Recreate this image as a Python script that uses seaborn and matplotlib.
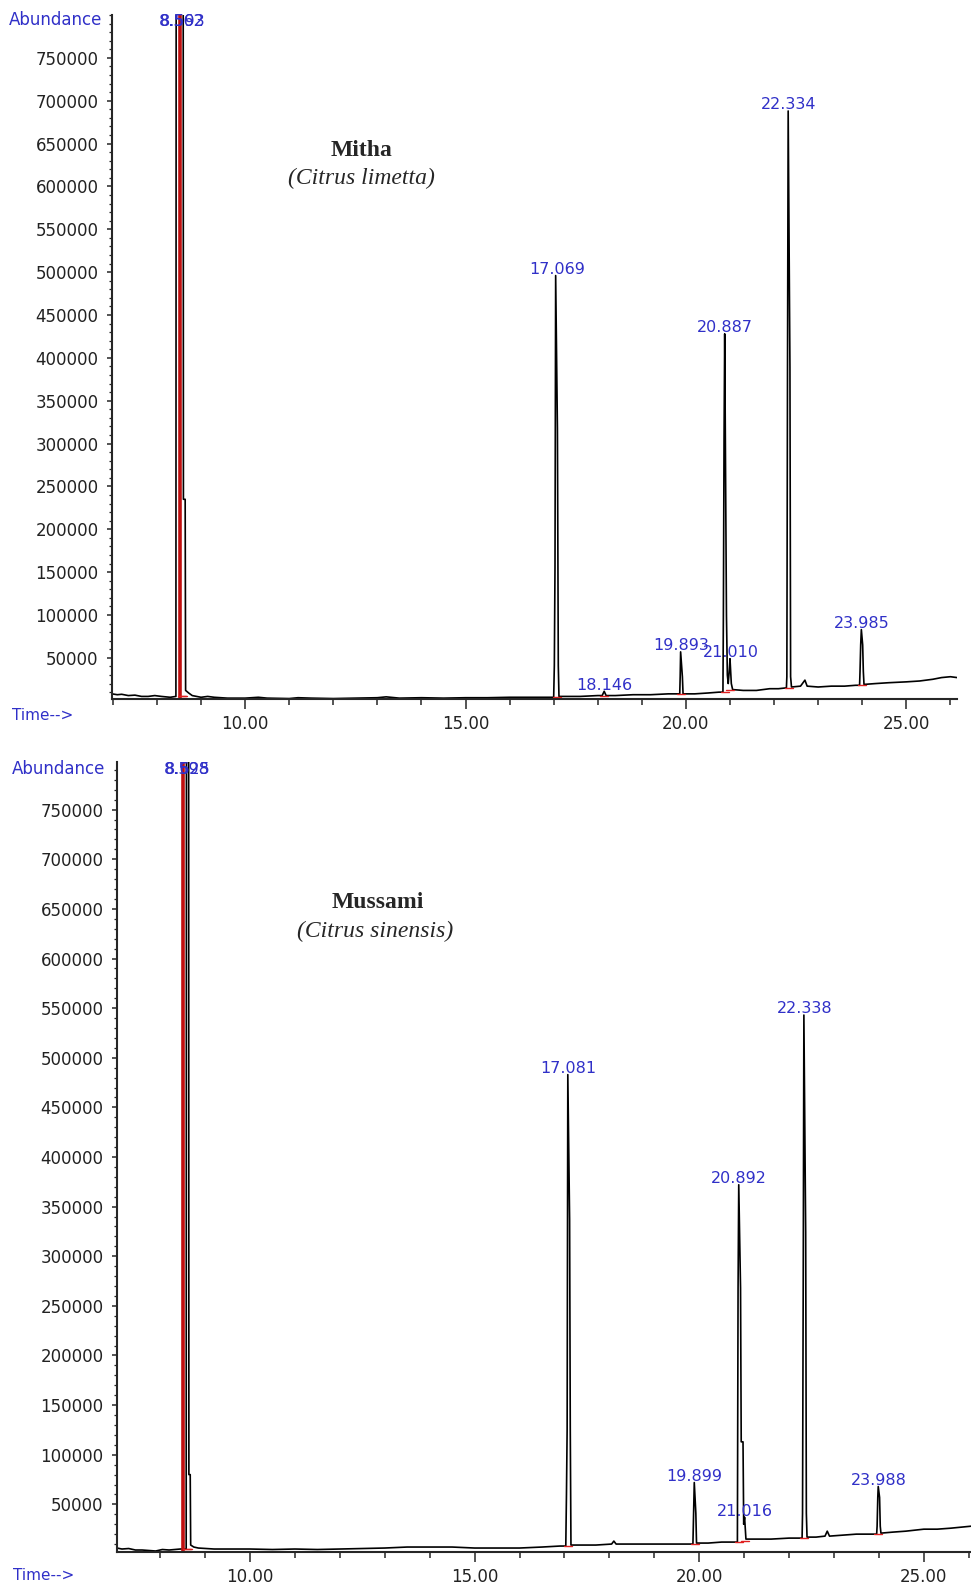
import numpy as np
import pandas as pd
import matplotlib
matplotlib.use("Agg")
import matplotlib.pyplot as plt
import seaborn as sns
from matplotlib.ticker import MultipleLocator, FormatStrFormatter

# ---- Mitha (Citrus limetta): baseline points, time (min) / abundance (x1000)
mitha_base_t = [6.98, 7.1, 7.2, 7.35, 7.5, 7.65, 7.8, 7.95, 8.1, 8.3, 8.8, 9.0, 9.15, 9.3, 9.6,
                10.0, 10.3, 10.5, 11.0, 11.2, 11.5, 12.0, 12.5, 13.0, 13.2, 13.5, 14.0, 14.5,
                15.0, 15.5, 16.0, 16.5, 16.9, 17.3, 17.6, 18.0, 18.4, 18.8, 19.2, 19.6, 20.2,
                20.5, 20.75, 21.3, 21.6, 21.9, 22.1, 22.6, 22.7, 22.75, 23.0, 23.3, 23.6,
                23.85, 24.3, 24.6, 25.0, 25.3, 25.6, 25.8, 26.0, 26.15]
mitha_base_y = [8, 7, 7.5, 6, 6.5, 5, 5, 6, 5, 4, 6, 4, 5, 4, 3,
                3, 4, 3, 2.5, 3.5, 3, 2.5, 3, 3.5, 4.5, 3, 3.5, 3,
                3.5, 3.5, 4, 4, 4, 5, 5, 6, 6, 7, 7, 8, 8,
                9, 10, 12, 12, 14, 14, 17, 24, 17, 16, 17, 17,
                18, 20, 21, 22, 23, 25, 27, 28, 27]
# peak scans
mitha_peak_t = [8.43, 8.44, 8.59, 8.60, 8.64, 8.65, 8.72,
                17.00, 17.015, 17.03, 17.045, 17.085, 17.105, 17.12,
                18.10, 18.146, 18.19,
                19.86, 19.87, 19.88, 19.92, 19.935,
                20.84, 20.85, 20.865, 20.88, 20.92, 20.94, 20.96, 20.985, 21.00, 21.03, 21.06,
                22.28, 22.29, 22.305, 22.32, 22.36, 22.375, 22.395,
                23.94, 23.95, 23.965, 23.98, 24.01, 24.025, 24.04]
mitha_peak_y = [5, 1500, 1500, 235, 235, 12, 9,
                4, 41, 156, 496, 317, 41, 5,
                6, 11, 6,
                8, 28, 57, 28, 8,
                10, 99, 303, 428, 99, 30, 20, 36, 49, 20, 13,
                15, 28, 389, 688, 389, 28, 16,
                18, 34, 65, 83, 65, 34, 19]
mitha_labels = ["8.562", "8.593", "17.069", "18.146", "19.893", "20.887", "21.010", "22.334", "23.985"]
mitha_label_y = [792, 792, 496, 11, 57, 428, 49, 688, 83]
mitha_mark_y = [5, 5, 4, 6, 8, 10, 13, 15, 18]
mitha_red_t = 8.53

# ---- Mussami (Citrus sinensis)
mussami_base_t = [7.04, 7.15, 7.3, 7.45, 7.6, 7.9, 8.05, 8.2, 8.45, 8.85, 9.2, 9.6, 10.0,
                  10.5, 11.0, 11.5, 12.0, 12.5, 13.0, 13.5, 14.0, 14.5, 15.0, 15.5, 16.0,
                  16.5, 16.9, 17.3, 17.7, 18.4, 18.8, 19.2, 19.6, 20.2, 20.5, 20.75, 21.3,
                  21.6, 22.0, 22.2, 22.6, 22.8, 22.85, 22.9, 23.2, 23.5, 23.8, 24.3, 24.6,
                  25.0, 25.3, 25.6, 26.05]
mussami_base_y = [6, 5, 5.5, 4, 4, 3, 4.5, 4, 5, 6, 5, 5, 5,
                  4.5, 5, 4.5, 5, 5.5, 6, 7, 7, 7, 6, 6, 6,
                  7, 8, 9, 9, 10, 10, 10, 10, 11, 12, 12, 15,
                  15, 16, 16, 17, 18, 23, 18, 19, 20, 20, 22, 23,
                  25, 25, 26, 28]
mussami_peak_t = [8.58, 8.59, 8.63, 8.64, 8.67, 8.68, 8.75,
                  17.03, 17.045, 17.06, 17.075, 17.115, 17.13, 17.145,
                  18.05, 18.10, 18.15,
                  19.86, 19.875, 19.89, 19.925, 19.94,
                  20.85, 20.865, 20.88, 20.92, 20.935, 20.975, 20.99, 21.01, 21.04,
                  22.29, 22.30, 22.315, 22.33, 22.37, 22.385, 22.40,
                  23.95, 23.96, 23.975, 23.985, 24.015, 24.03, 24.045]
mussami_peak_y = [5, 1500, 1500, 80, 80, 9, 7,
                  8, 60, 125, 483, 337, 125, 9,
                  10, 13, 10,
                  10, 41, 72, 41, 11,
                  12, 268, 372, 268, 113, 113, 30, 37, 15,
                  16, 41, 268, 543, 324, 41, 17,
                  20, 28, 57, 68, 57, 28, 21]
mussami_labels = ["8.598", "8.625", "17.081", "19.899", "20.892", "21.016", "22.338", "23.988"]
mussami_label_y = [790, 790, 483, 72, 372, 37, 543, 68]
mussami_mark_y = [5, 5, 8, 10, 12, 13, 16, 20]
mussami_red_t = 8.50

BLUE = "#3030c8"

sns.set_style("ticks")
plt.rcParams["font.family"] = ["DejaVu Sans"]

fig = plt.figure(figsize=(9.71, 15.83), dpi=100)
W, H = 971, 1583


def px(x, y):
    return x / W, 1 - y / H


def draw_panel(rect, xlim, ylim, base_t, base_y, peak_t, peak_y, labels, label_y, mark_y, red_t):
    ax = fig.add_axes(rect)
    df = pd.DataFrame({"t": base_t + peak_t, "y": np.array(base_y + peak_y) * 1000})
    df = df.sort_values("t")
    sns.lineplot(data=df, x="t", y="y", ax=ax, sort=False, estimator=None,
                 color="black", lw=1.2)
    # main peak integration marker
    ax.plot([red_t, red_t], [ylim[0], 2e6], color="#c01010", lw=2.6, solid_capstyle="butt")
    # red baseline marks and peak labels
    for lab, ly, my in zip(labels, label_y, mark_y):
        rt = float(lab)
        ax.plot([rt - 0.09, rt + 0.09], [my * 1000, my * 1000], color="#e02020", lw=1.0)
        if ly >= 780:
            ax.text(rt, ly * 1000, lab, ha="center", va="center", color=BLUE,
                    fontsize=11.5, clip_on=False)
        else:
            ax.annotate(lab, xy=(rt, ly * 1000), xytext=(0, -1), textcoords="offset points",
                        ha="center", va="bottom", color=BLUE, fontsize=11.5)
    ax.set_xlim(*xlim)
    ax.set_ylim(*ylim)
    ax.set_xlabel("")
    ax.set_ylabel("")
    ax.set_yticks(np.arange(50000, 750001, 50000))
    ax.yaxis.set_major_formatter(FormatStrFormatter("%d"))
    ax.yaxis.set_minor_locator(MultipleLocator(10000))
    ax.set_xticks([10, 15, 20, 25])
    ax.xaxis.set_major_formatter(FormatStrFormatter("%.2f"))
    ax.xaxis.set_minor_locator(MultipleLocator(1))
    ax.tick_params(axis="x", which="major", length=7.2, width=1.1, pad=4, labelsize=12,
                   labelcolor="#222222")
    ax.tick_params(axis="x", which="minor", length=4.3, width=1.1)
    ax.tick_params(axis="y", which="major", length=3.6, width=1.1, pad=6, labelsize=12,
                   labelcolor="#222222")
    ax.tick_params(axis="y", which="minor", length=2.2, width=0.9)
    for s in ["top", "right"]:
        ax.spines[s].set_visible(False)
    for s in ["left", "bottom"]:
        ax.spines[s].set_linewidth(1.5)
    return ax


# top panel: Mitha
draw_panel([112 / W, 1 - 699 / H, (957 - 112) / W, (699 - 15) / H], (6.98, 26.15), (2000, 800000),
           mitha_base_t, mitha_base_y, mitha_peak_t, mitha_peak_y,
           mitha_labels, mitha_label_y, mitha_mark_y, mitha_red_t)
# bottom panel: Mussami
draw_panel([117 / W, 1 - 1552 / H, (971 - 117) / W, (1552 - 762) / H], (7.04, 26.05), (2000, 798000),
           mussami_base_t, mussami_base_y, mussami_peak_t, mussami_peak_y,
           mussami_labels, mussami_label_y, mussami_mark_y, mussami_red_t)

# axis captions
fig.text(*px(9, 20), "Abundance", color=BLUE, fontsize=12, ha="left", va="center")
fig.text(*px(12, 716), "Time-->", color=BLUE, fontsize=11, ha="left", va="center")
fig.text(*px(12, 769), "Abundance", color=BLUE, fontsize=12, ha="left", va="center")
fig.text(*px(13, 1575), "Time-->", color=BLUE, fontsize=11, ha="left", va="center")

# sample titles
fig.text(*px(362, 150), "Mitha", family="Liberation Serif", fontweight="bold", fontsize=17,
         ha="center", va="center")
fig.text(*px(361, 178), "(Citrus limetta)", family="Liberation Serif", style="italic",
         fontsize=17, ha="center", va="center")
fig.text(*px(378, 903), "Mussami", family="Liberation Serif", fontweight="bold", fontsize=17,
         ha="center", va="center")
fig.text(*px(375, 931), "(Citrus sinensis)", family="Liberation Serif", style="italic",
         fontsize=17, ha="center", va="center")

fig.savefig("out.png", dpi=100, facecolor="white")
